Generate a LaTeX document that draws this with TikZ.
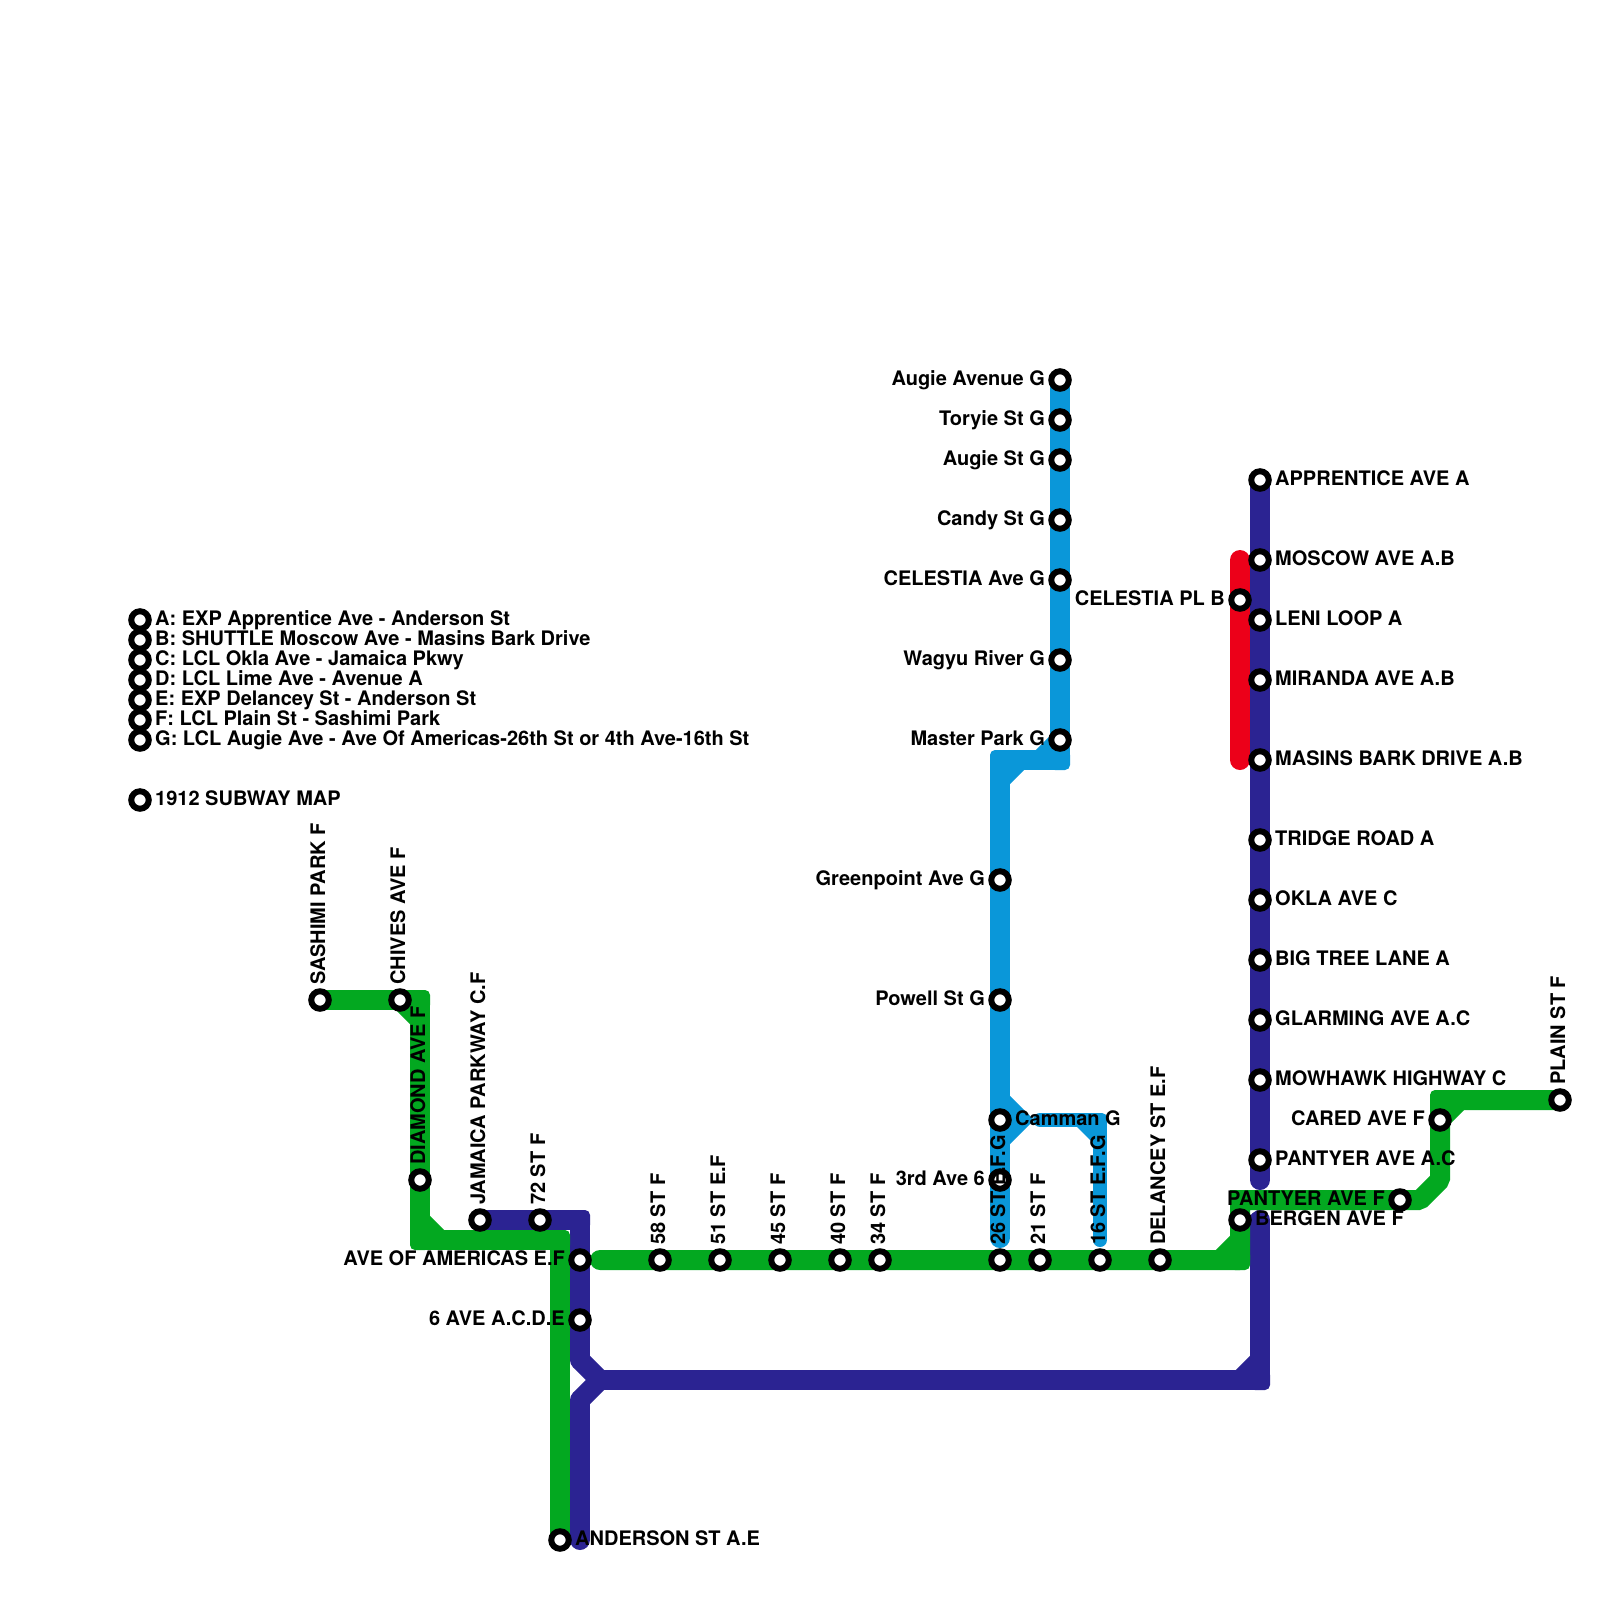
\documentclass[tikz,border=0pt]{standalone}
\usepackage{fontspec}
\setmainfont{TeX Gyre Heros}
\definecolor{lgreen}{HTML}{03A820}
\definecolor{lnavy}{HTML}{2B2392}
\definecolor{lblue}{HTML}{0A97D9}
\definecolor{lred}{HTML}{EC0019}
\newcommand{\cornerpatch}[4][10]{\fill[#2,rounded corners=5pt,shift={(#3,#4)}] (-#1,-#1) rectangle (#1,#1);}
\tikzset{
  x=1pt,y=-1pt,
  stn/.style={circle,draw=black,fill=white,line width=6pt,minimum size=17.5pt,inner sep=0pt},
  lab/.style={inner sep=0pt,font=\bfseries\fontsize{20}{20}\selectfont,text=black},
  lr/.style={lab,anchor=base west,xshift=15pt,yshift=-5pt},
  ll/.style={lab,anchor=base east,xshift=-15pt,yshift=-5pt},
  lu/.style={lab,anchor=base west,xshift=5pt,yshift=15pt,rotate=90},
  route/.style={line width=20pt,line cap=round,line join=bevel},
  diag/.style={line width=20pt,line cap=butt},
  thinroute/.style={line width=14pt,line cap=round,line join=bevel},
}
\begin{document}
\begin{tikzpicture}
\useasboundingbox (0,0) rectangle (1600,1600);
\fill[white] (0,0) rectangle (1600,1600);
% stations
\foreach \n/\x/\y in {leg-a/140/620,leg-b/140/640,leg-c/140/660,leg-d/140/680,leg-e/140/700,leg-f/140/720,leg-g/140/740,leg-t/140/800,
 sashimi/320/1000,chives/400/1000,diamond/420/1180,jamaica/480/1220,st72/540/1220,avam/580/1260,ave6/580/1320,anderson/560/1540,
 st58/660/1260,st51/720/1260,st45/780/1260,st40/840/1260,st34/880/1260,st26/1000/1260,st21/1040/1260,st16/1100/1260,delancey/1160/1260,
 bergen/1240/1220,pantf/1400/1200,cared/1440/1120,plain/1560/1100,
 augieav/1060/380,toryie/1060/420,augiest/1060/460,candy/1060/520,celave/1060/580,wagyu/1060/660,master/1060/740,
 greenpt/1000/880,powell/1000/1000,camman/1000/1120,third/1000/1180,
 appr/1260/480,moscow/1260/560,leni/1260/620,miranda/1260/680,masins/1260/760,tridge/1260/840,okla/1260/900,bigtree/1260/960,glarm/1260/1020,mowhawk/1260/1080,pantac/1260/1160,
 celpl/1240/600}{
  \coordinate (\n) at (\x,\y);
}
% route way points
\coordinate (n1) at (580,1220); \coordinate (n2) at (580,1360); \coordinate (n3) at (600,1380);
\coordinate (n4) at (580,1400); \coordinate (n5) at (1260,1380); \coordinate (n6) at (1240,1380);
\coordinate (n7) at (1260,1360); \coordinate (n8) at (1260,1220); \coordinate (n9) at (1260,1180);
\coordinate (n10) at (580,1540); \coordinate (n11) at (1240,1240);
\coordinate (b1) at (1060,760); \coordinate (b2) at (1000,760); \coordinate (b3) at (1040,760);
\coordinate (b4) at (1000,780); \coordinate (b5) at (1020,760); \coordinate (b6) at (1000,1238);
\coordinate (b7) at (1000,1100); \coordinate (b8) at (1020,1120); \coordinate (b9) at (1000,1140);
\coordinate (b10) at (1040,1120); \coordinate (b11) at (1100,1120); \coordinate (b12) at (1100,1240);
\coordinate (b13) at (1080,1120); \coordinate (b14) at (1100,1140);
\coordinate (r1) at (1240,560); \coordinate (r2) at (1240,760);
\coordinate (g1) at (420,1000); \coordinate (g2) at (420,1020); \coordinate (g3) at (420,1240);
\coordinate (g4) at (420,1220); \coordinate (g5) at (440,1240); \coordinate (g6) at (560,1240);
\coordinate (g7) at (600,1260); \coordinate (g8) at (1240,1260); \coordinate (g9) at (1220,1260);
\coordinate (g10) at (1240,1240); \coordinate (g11) at (1240,1200); \coordinate (g12) at (1420,1200);
\coordinate (g13) at (1440,1180); \coordinate (g14) at (1440,1100); \coordinate (g15) at (1440,1120);
\coordinate (g16) at (1460,1100);
% navy
\draw[route,lnavy] (appr) -- (n9);
\draw[route,lnavy] (jamaica) -- (n1) -- (n2);
\draw[diag,lnavy] (n2) -- (n3) -- (n4);
\draw[route,lnavy] (n4) -- (n10);
\draw[route,lnavy] (n3) -- (n5) -- (n8);
\draw[diag,lnavy] (n6) -- (n7);
\draw[diag,lnavy] (n11) -- (n8);
\cornerpatch{lnavy}{580}{1220}
\cornerpatch{lnavy}{1260}{1380}
% red
\draw[route,lred] (r1) -- (r2);
% blue
\draw[route,lblue] (augieav) -- (b1) -- (b2) -- (b6);
\draw[diag,lblue] (b3) -- (master);
\draw[diag,lblue] (b4) -- (b5);
\draw[diag,lblue] (b7) -- (b8) -- (b9);
\draw[thinroute,lblue] (b10) -- (b11) -- (b12);
\draw[line width=14pt,lblue] (b13) -- (b14);
\cornerpatch{lblue}{1060}{760}
\cornerpatch{lblue}{1000}{760}
\cornerpatch[7]{lblue}{1100}{1120}
% green
\draw[route,lgreen] (sashimi) -- (chives) -- (g1) -- (diamond) -- (g3) -- (g6) -- (anderson);
\draw[diag,lgreen] (chives) -- (g2);
\draw[diag,lgreen] (g4) -- (g5);
\draw[route,lgreen] (g7) -- (g8) -- (g11) -- (pantf) -- (g12) -- (g13) -- (g14) -- (plain);
\draw[diag,lgreen] (g9) -- (g10);
\draw[diag,lgreen] (g15) -- (g16);
\fill[lgreen] (1230,1190) rectangle (1250,1210);
\cornerpatch{lgreen}{420}{1000}
\cornerpatch{lgreen}{420}{1240}
\cornerpatch{lgreen}{560}{1240}
\cornerpatch{lgreen}{1240}{1260}
\cornerpatch{lgreen}{1440}{1100}
% station markers
\foreach \n in {leg-a,leg-b,leg-c,leg-d,leg-e,leg-f,leg-g,leg-t,
 sashimi,chives,diamond,jamaica,st72,avam,ave6,anderson,st58,st51,st45,st40,st34,st26,st21,st16,delancey,
 bergen,pantf,cared,plain,augieav,toryie,augiest,candy,celave,wagyu,master,greenpt,powell,camman,third,
 appr,moscow,leni,miranda,masins,tridge,okla,bigtree,glarm,mowhawk,pantac,celpl}{
  \node[stn] (m-\n) at (\n) {};
}
% labels
\node[lr] (t-a) at (leg-a) {A: EXP Apprentice Ave - Anderson St};
\node[lr] (t-b) at (leg-b) {B: SHUTTLE Moscow Ave - Masins Bark Drive};
\node[lr] (t-c) at (leg-c) {C: LCL Okla Ave - Jamaica Pkwy};
\node[lr] (t-d) at (leg-d) {D: LCL Lime Ave - Avenue A};
\node[lr] (t-e) at (leg-e) {E: EXP Delancey St - Anderson St};
\node[lr] (t-f) at (leg-f) {F: LCL Plain St - Sashimi Park};
\node[lr] (t-g) at (leg-g) {G: LCL Augie Ave - Ave Of Americas-26th St or 4th Ave-16th St};
\node[lr] (t-t) at (leg-t) {1912 SUBWAY MAP};
\node[lu] (t1) at (sashimi) {SASHIMI PARK F};
\node[lu] (t2) at (chives) {CHIVES AVE F};
\node[lu] (t3) at (diamond) {DIAMOND AVE F};
\node[lu] (t4) at (jamaica) {JAMAICA PARKWAY C.F};
\node[lu] (t5) at (st72) {72 ST F};
\node[ll] (t6) at (avam) {AVE OF AMERICAS E.F};
\node[ll] (t7) at (ave6) {6 AVE A.C.D.E};
\node[lr] (t8) at (anderson) {ANDERSON ST A.E};
\node[lu] (t9) at (st58) {58 ST F};
\node[lu] (t10) at (st51) {51 ST E.F};
\node[lu] (t11) at (st45) {45 ST F};
\node[lu] (t12) at (st40) {40 ST F};
\node[lu] (t13) at (st34) {34 ST F};
\node[lu] (t14) at (st26) {26 ST E.F.G};
\node[lu] (t15) at (st21) {21 ST F};
\node[lu] (t16) at (st16) {16 ST E.F.G};
\node[lu] (t17) at (delancey) {DELANCEY ST E.F};
\node[lr] (t18) at (bergen) {BERGEN AVE F};
\node[ll] (t19) at (pantf) {PANTYER AVE F};
\node[ll] (t20) at (cared) {CARED AVE F};
\node[lu] (t21) at (plain) {PLAIN ST F};
\node[ll] (t22) at (augieav) {Augie Avenue G};
\node[ll] (t23) at (toryie) {Toryie St G};
\node[ll] (t24) at (augiest) {Augie St G};
\node[ll] (t25) at (candy) {Candy St G};
\node[ll] (t26) at (celave) {CELESTIA Ave G};
\node[ll] (t27) at (wagyu) {Wagyu River G};
\node[ll] (t28) at (master) {Master Park G};
\node[ll] (t29) at (greenpt) {Greenpoint Ave G};
\node[ll] (t30) at (powell) {Powell St G};
\node[lr] (t31) at (camman) {Camman G};
\node[ll] (t32) at (third) {3rd Ave 6};
\node[lr] (t33) at (appr) {APPRENTICE AVE A};
\node[lr] (t34) at (moscow) {MOSCOW AVE A.B};
\node[lr] (t35) at (leni) {LENI LOOP A};
\node[lr] (t36) at (miranda) {MIRANDA AVE A.B};
\node[lr] (t37) at (masins) {MASINS BARK DRIVE A.B};
\node[lr] (t38) at (tridge) {TRIDGE ROAD A};
\node[lr] (t39) at (okla) {OKLA AVE C};
\node[lr] (t40) at (bigtree) {BIG TREE LANE A};
\node[lr] (t41) at (glarm) {GLARMING AVE A.C};
\node[lr] (t42) at (mowhawk) {MOWHAWK HIGHWAY C};
\node[lr] (t43) at (pantac) {PANTYER AVE A.C};
\node[ll] (t44) at (celpl) {CELESTIA PL B};
\end{tikzpicture}
\end{document}
